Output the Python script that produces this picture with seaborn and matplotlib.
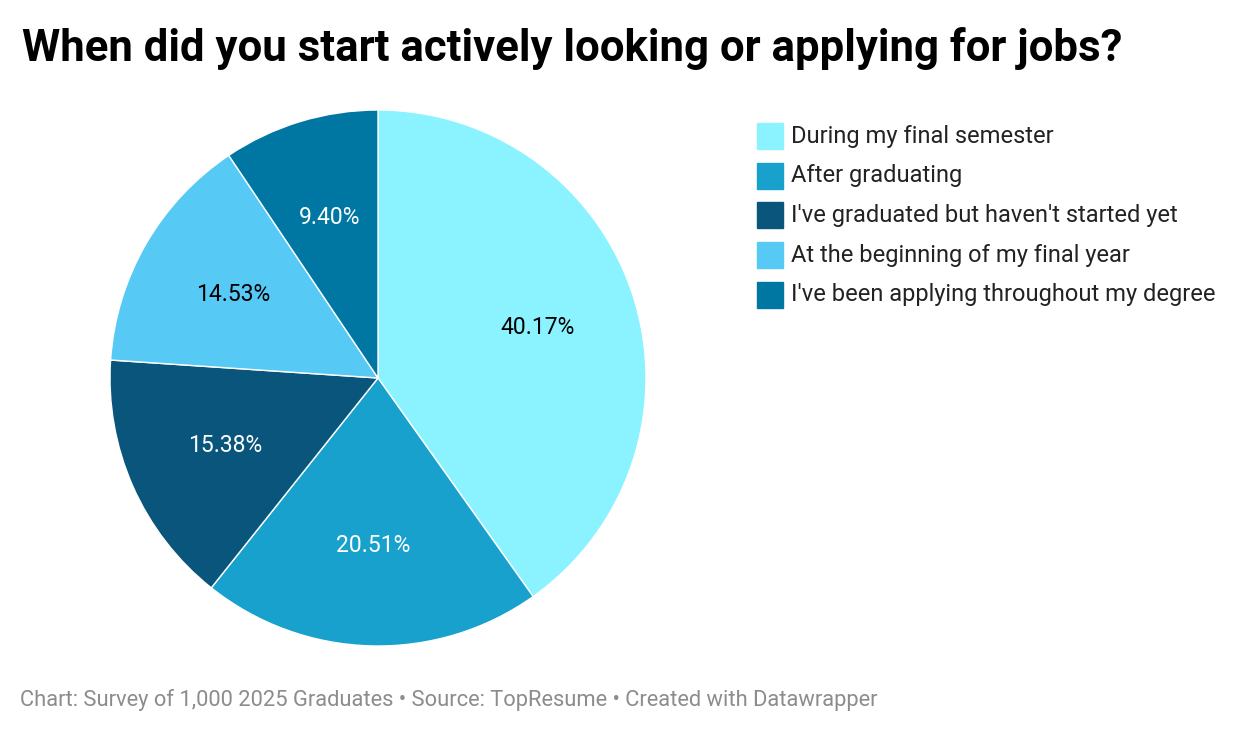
import matplotlib
matplotlib.use("Agg")
import matplotlib.pyplot as plt
import seaborn as sns
from matplotlib.patches import Rectangle

categories = ["During my final semester", "After graduating",
              "I've graduated but haven't started yet",
              "At the beginning of my final year",
              "I've been applying throughout my degree"]
values = [40.17, 20.51, 15.38, 14.53, 9.40]
colors = ["#8af3ff", "#18a1cd", "#09557b", "#57c9f5", "#0077a3"]
label_colors = ["black", "white", "white", "black", "white"]

sns.set_theme(style="white")
plt.rcParams["font.family"] = "Roboto"
fig = plt.figure(figsize=(12.4, 7.34), dpi=100)
W, H = 1240, 734
ax = fig.add_axes([(378-268)/W, (H-378-268)/H, 536/W, 536/H])
wedges, texts = ax.pie(values, colors=colors, startangle=90, counterclock=False,
                       labels=[f"{v:.2f}%" for v in values], labeldistance=0.625,
                       wedgeprops=dict(edgecolor="white", linewidth=1))
for t, c in zip(texts, label_colors):
    t.set_color(c); t.set_fontsize(16.5); t.set_ha("center"); t.set_va("center")
ax.set_xlim(-1, 1); ax.set_ylim(-1, 1)
ax.set_aspect("equal")

fig.text(22/W, 1-48/H, "When did you start actively looking or applying for jobs?",
         fontsize=31.5, fontweight="bold", va="center", ha="left", color="black")
for i, (cat, col) in enumerate(zip(categories, colors)):
    y = 136 + i*39.7
    fig.patches.append(Rectangle((757/W, 1-(y+13)/H), 26/W, 26/H, color=col,
                                 transform=fig.transFigure, figure=fig))
    fig.text(791/W, 1-y/H, cat, fontsize=17, va="center", ha="left", color="#222222")
fig.text(20/W, 1-700/H, "Chart: Survey of 1,000 2025 Graduates • Source: TopResume • Created with Datawrapper",
         fontsize=15.75, color="#8c8c8c", va="center", ha="left")
fig.savefig("out.png", dpi=100, facecolor="white")
